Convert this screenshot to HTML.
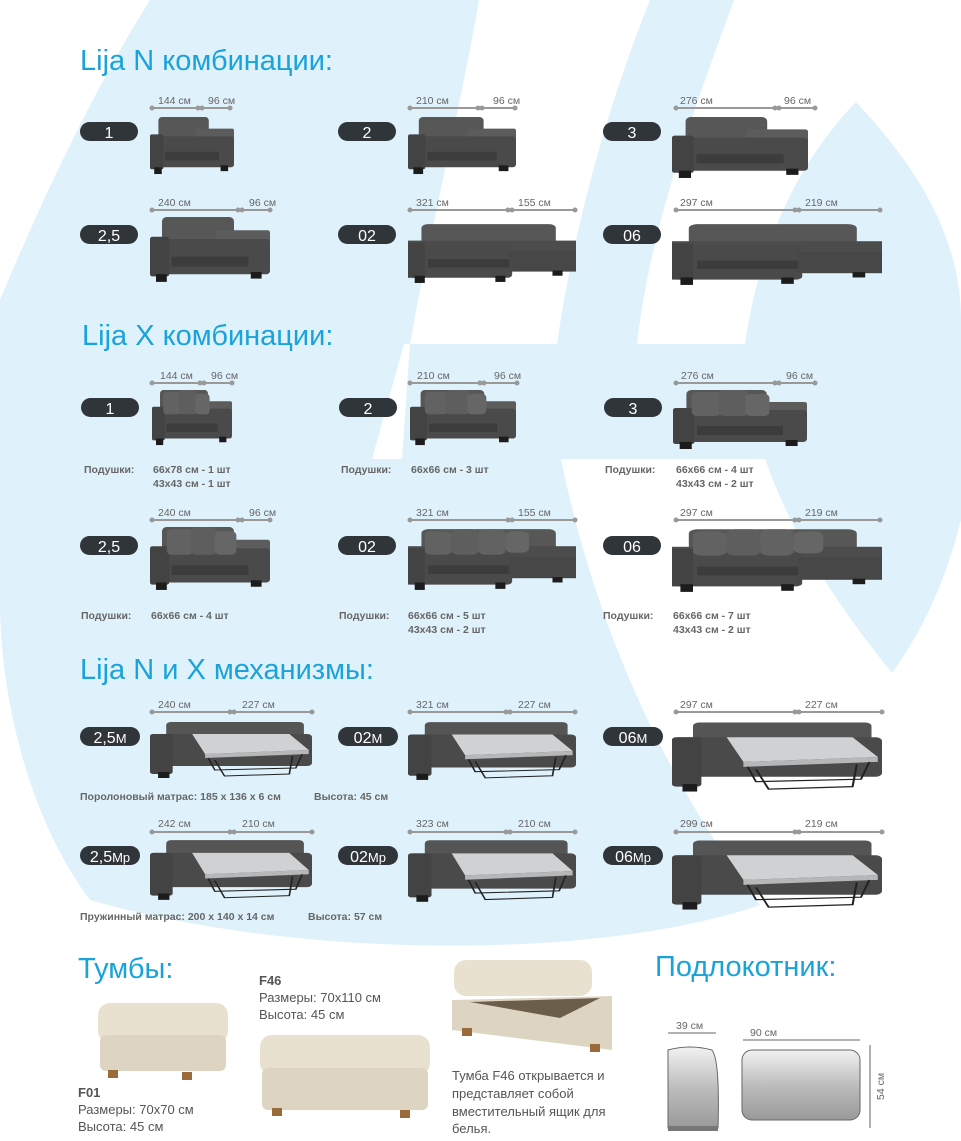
<!DOCTYPE html>
<html><head><meta charset="utf-8"><style>
html,body{margin:0;padding:0;background:#fff}
svg{display:block}
text{font-family:"Liberation Sans",sans-serif}
.t{fill:#1aa3db;font-size:29px}
.d{fill:#666;font-size:10.5px}
.p{fill:#fff;font-size:16px;text-anchor:middle}
.c{fill:#666;font-size:10.5px;font-weight:bold}
.o{fill:#555;font-size:13px}
</style></head><body>
<svg width="961" height="1141" viewBox="0 0 961 1141" xmlns="http://www.w3.org/2000/svg">
<defs>
<symbol id="sofa" viewBox="0 0 100 60" preserveAspectRatio="none">
<rect x="10" y="0" width="60" height="30" rx="4" fill="#575757"/>
<rect x="55" y="12" width="45" height="22" rx="2" fill="#5c5c5c"/>
<rect x="0" y="20" width="100" height="32" rx="3" fill="#4a4a4a"/>
<rect x="0" y="18" width="16" height="36" rx="2" fill="#434343"/>
<rect x="18" y="36" width="64" height="9" fill="#3c3c3c"/>
<rect x="5" y="52" width="9" height="7" fill="#1c1c1c"/>
<rect x="84" y="50" width="9" height="6" fill="#1c1c1c"/>
</symbol>
<symbol id="sofax" viewBox="0 0 100 60" preserveAspectRatio="none">
<use href="#sofa" width="100" height="60"/>
<rect x="14" y="2" width="22" height="24" rx="4" fill="#626262"/>
<rect x="34" y="0" width="22" height="26" rx="4" fill="#5e5e5e"/>
<rect x="54" y="4" width="18" height="22" rx="4" fill="#666"/>
</symbol>
<symbol id="corner" viewBox="0 0 100 60" preserveAspectRatio="none">
<rect x="8" y="2" width="80" height="26" rx="4" fill="#575757"/>
<rect x="0" y="18" width="100" height="22" fill="#4c4c4c"/>
<rect x="0" y="22" width="62" height="32" rx="3" fill="#4a4a4a"/>
<rect x="60" y="28" width="40" height="20" fill="#474747"/>
<rect x="0" y="20" width="10" height="34" fill="#434343"/>
<rect x="12" y="36" width="48" height="8" fill="#3c3c3c"/>
<rect x="4" y="52" width="6" height="7" fill="#1c1c1c"/>
<rect x="52" y="52" width="6" height="6" fill="#1c1c1c"/>
<rect x="86" y="47" width="6" height="5" fill="#1c1c1c"/>
</symbol>
<symbol id="cornerx" viewBox="0 0 100 60" preserveAspectRatio="none">
<use href="#corner" width="100" height="60"/>
<rect x="10" y="4" width="16" height="22" rx="4" fill="#626262"/>
<rect x="26" y="2" width="16" height="24" rx="4" fill="#5e5e5e"/>
<rect x="42" y="2" width="16" height="24" rx="4" fill="#626262"/>
<rect x="58" y="4" width="14" height="20" rx="4" fill="#666"/>
</symbol>
<symbol id="bed" viewBox="0 0 100 60" preserveAspectRatio="none">
<rect x="10" y="2" width="85" height="20" rx="3" fill="#555"/>
<rect x="0" y="14" width="100" height="32" rx="3" fill="#4a4a4a"/>
<rect x="0" y="14" width="14" height="40" rx="2" fill="#434343"/>
<polygon points="26,14 86,14 98,30 34,34" fill="#cfd1d3"/>
<polygon points="34,34 98,30 98,34 34,38" fill="#b5b7b9"/>
<polyline points="36,38 40,50 90,48 94,34" fill="none" stroke="#222" stroke-width="1"/>
<polyline points="40,40 46,56 86,54 88,36" fill="none" stroke="#222" stroke-width="1"/>
<rect x="5" y="52" width="7" height="6" fill="#1c1c1c"/>
</symbol>
<linearGradient id="g" x1="0" x2="0" y1="0" y2="1"><stop offset="0" stop-color="#f2f2f2"/><stop offset="0.5" stop-color="#bdbdbd"/><stop offset="1" stop-color="#9a9a9a"/></linearGradient>
</defs>

<!-- background -->
<g fill="#dff1fb">
<path d="M150,0 L479,0 C460,110 430,230 410,344 L810,344 L790,459 L561,459 C600,650 680,800 760,905 C600,960 300,960 90,900 C30,820 0,700 0,600 L0,300 C50,180 100,80 150,0 Z"/>
<path d="M650,0 L734,0 C690,120 650,230 637,344 L557,344 C575,220 610,100 650,0 Z"/>
<path d="M856,102 C920,170 961,240 961,320 L961,520 C940,600 915,640 892,673 C800,560 745,450 745,344 C760,240 800,160 856,102 Z"/>
</g>
<polygon points="372,459 404,344 410,344 402,459" fill="#fff"/>

<!-- titles -->
<text class="t" x="80" y="70">Lija N  комбинации:</text>
<text class="t" x="82" y="345">Lija X  комбинации:</text>
<text class="t" x="80" y="679">Lija N  и X механизмы:</text>

<!-- dimension lines -->
<g stroke="#999" stroke-width="2">
<line x1="152" y1="108" x2="230" y2="108"/><line x1="410" y1="108" x2="515" y2="108"/><line x1="676" y1="108" x2="815" y2="108"/>
<line x1="152" y1="210" x2="270" y2="210"/><line x1="410" y1="210" x2="575" y2="210"/><line x1="676" y1="210" x2="880" y2="210"/>
<line x1="152" y1="383" x2="232" y2="383"/><line x1="410" y1="383" x2="517" y2="383"/><line x1="676" y1="383" x2="815" y2="383"/>
<line x1="152" y1="520" x2="270" y2="520"/><line x1="410" y1="520" x2="575" y2="520"/><line x1="676" y1="520" x2="880" y2="520"/>
<line x1="152" y1="712" x2="312" y2="712"/><line x1="410" y1="712" x2="575" y2="712"/><line x1="676" y1="712" x2="882" y2="712"/>
<line x1="152" y1="832" x2="312" y2="832"/><line x1="410" y1="832" x2="575" y2="832"/><line x1="676" y1="832" x2="882" y2="832"/>
</g>
<g fill="#999">
<circle cx="152" cy="108" r="2.5"/><circle cx="198" cy="108" r="2.5"/><circle cx="202" cy="108" r="2.5"/><circle cx="230" cy="108" r="2.5"/>
<circle cx="410" cy="108" r="2.5"/><circle cx="478" cy="108" r="2.5"/><circle cx="482" cy="108" r="2.5"/><circle cx="515" cy="108" r="2.5"/>
<circle cx="676" cy="108" r="2.5"/><circle cx="775" cy="108" r="2.5"/><circle cx="779" cy="108" r="2.5"/><circle cx="815" cy="108" r="2.5"/>
<circle cx="152" cy="210" r="2.5"/><circle cx="238" cy="210" r="2.5"/><circle cx="242" cy="210" r="2.5"/><circle cx="270" cy="210" r="2.5"/>
<circle cx="410" cy="210" r="2.5"/><circle cx="508" cy="210" r="2.5"/><circle cx="512" cy="210" r="2.5"/><circle cx="575" cy="210" r="2.5"/>
<circle cx="676" cy="210" r="2.5"/><circle cx="795" cy="210" r="2.5"/><circle cx="799" cy="210" r="2.5"/><circle cx="880" cy="210" r="2.5"/>
<circle cx="152" cy="383" r="2.5"/><circle cx="200" cy="383" r="2.5"/><circle cx="204" cy="383" r="2.5"/><circle cx="232" cy="383" r="2.5"/>
<circle cx="410" cy="383" r="2.5"/><circle cx="480" cy="383" r="2.5"/><circle cx="484" cy="383" r="2.5"/><circle cx="517" cy="383" r="2.5"/>
<circle cx="676" cy="383" r="2.5"/><circle cx="775" cy="383" r="2.5"/><circle cx="779" cy="383" r="2.5"/><circle cx="815" cy="383" r="2.5"/>
<circle cx="152" cy="520" r="2.5"/><circle cx="238" cy="520" r="2.5"/><circle cx="242" cy="520" r="2.5"/><circle cx="270" cy="520" r="2.5"/>
<circle cx="410" cy="520" r="2.5"/><circle cx="508" cy="520" r="2.5"/><circle cx="512" cy="520" r="2.5"/><circle cx="575" cy="520" r="2.5"/>
<circle cx="676" cy="520" r="2.5"/><circle cx="795" cy="520" r="2.5"/><circle cx="799" cy="520" r="2.5"/><circle cx="880" cy="520" r="2.5"/>
<circle cx="152" cy="712" r="2.5"/><circle cx="230" cy="712" r="2.5"/><circle cx="234" cy="712" r="2.5"/><circle cx="312" cy="712" r="2.5"/>
<circle cx="410" cy="712" r="2.5"/><circle cx="506" cy="712" r="2.5"/><circle cx="510" cy="712" r="2.5"/><circle cx="575" cy="712" r="2.5"/>
<circle cx="676" cy="712" r="2.5"/><circle cx="795" cy="712" r="2.5"/><circle cx="799" cy="712" r="2.5"/><circle cx="882" cy="712" r="2.5"/>
<circle cx="152" cy="832" r="2.5"/><circle cx="230" cy="832" r="2.5"/><circle cx="234" cy="832" r="2.5"/><circle cx="312" cy="832" r="2.5"/>
<circle cx="410" cy="832" r="2.5"/><circle cx="506" cy="832" r="2.5"/><circle cx="510" cy="832" r="2.5"/><circle cx="575" cy="832" r="2.5"/>
<circle cx="676" cy="832" r="2.5"/><circle cx="795" cy="832" r="2.5"/><circle cx="799" cy="832" r="2.5"/><circle cx="882" cy="832" r="2.5"/>
</g>
<g>
<text class="d" x="158" y="104">144 см</text><text class="d" x="208" y="104">96 см</text>
<text class="d" x="416" y="104">210 см</text><text class="d" x="493" y="104">96 см</text>
<text class="d" x="680" y="104">276 см</text><text class="d" x="784" y="104">96 см</text>
<text class="d" x="158" y="206">240 см</text><text class="d" x="249" y="206">96 см</text>
<text class="d" x="416" y="206">321 см</text><text class="d" x="518" y="206">155 см</text>
<text class="d" x="680" y="206">297 см</text><text class="d" x="805" y="206">219 см</text>
<text class="d" x="160" y="379">144 см</text><text class="d" x="211" y="379">96 см</text>
<text class="d" x="417" y="379">210 см</text><text class="d" x="494" y="379">96 см</text>
<text class="d" x="681" y="379">276 см</text><text class="d" x="786" y="379">96 см</text>
<text class="d" x="158" y="516">240 см</text><text class="d" x="249" y="516">96 см</text>
<text class="d" x="416" y="516">321 см</text><text class="d" x="518" y="516">155 см</text>
<text class="d" x="680" y="516">297 см</text><text class="d" x="805" y="516">219 см</text>
<text class="d" x="158" y="708">240 см</text><text class="d" x="242" y="708">227 см</text>
<text class="d" x="416" y="708">321 см</text><text class="d" x="518" y="708">227 см</text>
<text class="d" x="680" y="708">297 см</text><text class="d" x="805" y="708">227 см</text>
<text class="d" x="158" y="827">242 см</text><text class="d" x="242" y="827">210 см</text>
<text class="d" x="416" y="827">323 см</text><text class="d" x="518" y="827">210 см</text>
<text class="d" x="680" y="827">299 см</text><text class="d" x="805" y="827">219 см</text>
</g>

<!-- pills -->
<g fill="#30353a">
<rect x="80" y="122" width="58" height="19" rx="9.5"/><rect x="338" y="122" width="58" height="19" rx="9.5"/><rect x="603" y="122" width="58" height="19" rx="9.5"/>
<rect x="80" y="225" width="58" height="19" rx="9.5"/><rect x="338" y="225" width="58" height="19" rx="9.5"/><rect x="603" y="225" width="58" height="19" rx="9.5"/>
<rect x="81" y="398" width="58" height="19" rx="9.5"/><rect x="339" y="398" width="58" height="19" rx="9.5"/><rect x="604" y="398" width="58" height="19" rx="9.5"/>
<rect x="80" y="536" width="58" height="19" rx="9.5"/><rect x="338" y="536" width="58" height="19" rx="9.5"/><rect x="603" y="536" width="58" height="19" rx="9.5"/>
<rect x="80" y="727" width="60" height="19" rx="9.5"/><rect x="338" y="727" width="60" height="19" rx="9.5"/><rect x="603" y="727" width="60" height="19" rx="9.5"/>
<rect x="80" y="846" width="60" height="19" rx="9.5"/><rect x="338" y="846" width="60" height="19" rx="9.5"/><rect x="603" y="846" width="60" height="19" rx="9.5"/>
</g>
<g>
<text class="p" x="109" y="138">1</text><text class="p" x="367" y="138">2</text><text class="p" x="632" y="138">3</text>
<text class="p" x="109" y="241">2,5</text><text class="p" x="367" y="241">02</text><text class="p" x="632" y="241">06</text>
<text class="p" x="110" y="414">1</text><text class="p" x="368" y="414">2</text><text class="p" x="633" y="414">3</text>
<text class="p" x="109" y="552">2,5</text><text class="p" x="367" y="552">02</text><text class="p" x="632" y="552">06</text>
<text class="p" x="110" y="743">2,5<tspan font-size="13">М</tspan></text><text class="p" x="368" y="743">02<tspan font-size="13">М</tspan></text><text class="p" x="633" y="743">06<tspan font-size="13">М</tspan></text>
<text class="p" x="110" y="862">2,5<tspan font-size="13">Мр</tspan></text><text class="p" x="368" y="862">02<tspan font-size="13">Мр</tspan></text><text class="p" x="633" y="862">06<tspan font-size="13">Мр</tspan></text>
</g>

<!-- sofas -->
<use href="#sofa" x="150" y="117" width="84" height="58"/>
<use href="#sofa" x="408" y="117" width="108" height="58"/>
<use href="#sofa" x="672" y="117" width="136" height="62"/>
<use href="#sofa" x="150" y="217" width="120" height="66"/>
<use href="#corner" x="408" y="222" width="168" height="62"/>
<use href="#corner" x="672" y="222" width="210" height="64"/>
<use href="#sofax" x="152" y="390" width="80" height="56"/>
<use href="#sofax" x="410" y="390" width="106" height="56"/>
<use href="#sofax" x="673" y="390" width="134" height="60"/>
<use href="#sofax" x="150" y="527" width="120" height="64"/>
<use href="#cornerx" x="408" y="527" width="168" height="64"/>
<use href="#cornerx" x="672" y="527" width="210" height="66"/>
<use href="#bed" x="150" y="720" width="162" height="60"/>
<use href="#bed" x="408" y="720" width="168" height="62"/>
<use href="#bed" x="672" y="720" width="210" height="74"/>
<use href="#bed" x="150" y="838" width="162" height="64"/>
<use href="#bed" x="408" y="838" width="168" height="66"/>
<use href="#bed" x="672" y="838" width="210" height="74"/>

<!-- cushions text -->
<text class="c" x="84" y="473">Подушки:</text><text class="c" x="153" y="473">66x78 см - 1 шт</text><text class="c" x="153" y="487">43x43 см - 1 шт</text>
<text class="c" x="341" y="473">Подушки:</text><text class="c" x="411" y="473">66x66 см - 3 шт</text>
<text class="c" x="605" y="473">Подушки:</text><text class="c" x="676" y="473">66x66 см - 4 шт</text><text class="c" x="676" y="487">43x43 см - 2 шт</text>
<text class="c" x="81" y="619">Подушки:</text><text class="c" x="151" y="619">66x66 см - 4 шт</text>
<text class="c" x="339" y="619">Подушки:</text><text class="c" x="408" y="619">66x66 см - 5 шт</text><text class="c" x="408" y="633">43x43 см - 2 шт</text>
<text class="c" x="603" y="619">Подушки:</text><text class="c" x="673" y="619">66x66 см - 7 шт</text><text class="c" x="673" y="633">43x43 см - 2 шт</text>
<text class="c" x="80" y="800">Поролоновый матрас:  185 x 136 x 6 см</text><text class="c" x="314" y="800">Высота:  45 см</text>
<text class="c" x="80" y="920">Пружинный матрас:  200 x 140 x 14 см</text><text class="c" x="308" y="920">Высота:  57 см</text>

<!-- bottom -->
<text class="t" x="78" y="978">Тумбы:</text>
<text class="t" x="655" y="976">Подлокотник:</text>
<text class="o" x="259" y="985" font-weight="bold" font-size="14">F46</text>
<text class="o" x="259" y="1002">Размеры: 70x110 см</text>
<text class="o" x="259" y="1019">Высота: 45 см</text>
<text class="o" x="78" y="1097" font-weight="bold" font-size="14">F01</text>
<text class="o" x="78" y="1114">Размеры: 70x70 см</text>
<text class="o" x="78" y="1131">Высота: 45 см</text>
<text class="o" x="452" y="1080">Тумба F46 открывается и</text>
<text class="o" x="452" y="1098">представляет собой</text>
<text class="o" x="452" y="1116">вместительный ящик для</text>
<text class="o" x="452" y="1133">белья.</text>

<!-- ottomans -->
<rect x="98" y="1003" width="130" height="40" rx="12" fill="#e8e1d0"/>
<rect x="100" y="1035" width="126" height="36" rx="6" fill="#ddd5c2"/>
<rect x="108" y="1070" width="10" height="8" fill="#9a6a3a"/><rect x="182" y="1072" width="10" height="8" fill="#9a6a3a"/>
<rect x="260" y="1035" width="170" height="40" rx="12" fill="#e8e1d0"/>
<rect x="262" y="1068" width="166" height="42" rx="6" fill="#ddd5c2"/>
<rect x="272" y="1108" width="10" height="8" fill="#9a6a3a"/><rect x="400" y="1110" width="10" height="8" fill="#9a6a3a"/>
<rect x="454" y="960" width="138" height="36" rx="12" fill="#e8e1d0"/>
<polygon points="452,1000 612,996 612,1050 452,1030" fill="#ddd5c2"/>
<polygon points="470,1002 600,998 560,1018" fill="#6b5e4a"/>
<rect x="462" y="1028" width="10" height="8" fill="#9a6a3a"/><rect x="590" y="1044" width="10" height="8" fill="#9a6a3a"/>

<!-- armrests -->
<path d="M668,1050 Q690,1044 712,1050 Q720,1060 718,1128 L668,1128 Z" fill="url(#g)" stroke="#666"/>
<rect x="742" y="1050" width="118" height="70" rx="10" fill="url(#g)" stroke="#666"/>
<rect x="668" y="1126" width="50" height="5" fill="#777"/>
<g stroke="#999" stroke-width="1.5"><line x1="668" y1="1033" x2="716" y2="1033"/><line x1="743" y1="1040" x2="860" y2="1040"/><line x1="870" y1="1045" x2="870" y2="1128"/></g>
<text class="d" x="676" y="1029">39 см</text><text class="d" x="750" y="1036">90 см</text>
<text class="d" transform="translate(884,1100) rotate(-90)">54 см</text>
</svg>
</body></html>
